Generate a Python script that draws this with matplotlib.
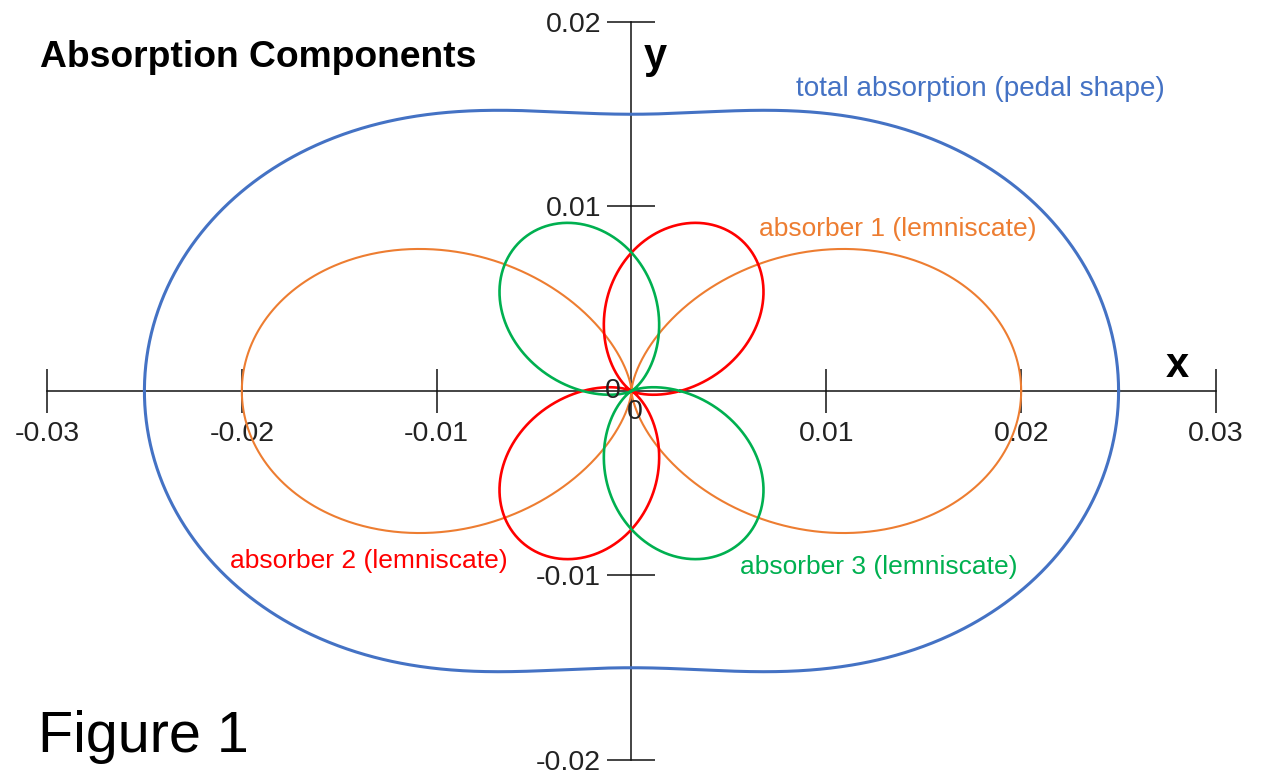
import numpy as np
import matplotlib
matplotlib.use("Agg")
import matplotlib.pyplot as plt

plt.rcParams['font.family'] = ['Liberation Sans', 'DejaVu Sans']

# Polar absorption components: r(theta) = amplitude * cos^2(theta - axis angle)
component_names = ["absorber 1 (lemniscate)", "absorber 2 (lemniscate)", "absorber 3 (lemniscate)"]
component_amplitudes = [0.02, 0.01, 0.01]
component_axis_deg = [0.0, 60.0, -60.0]
component_colors = ["#ED7D31", "#FF0000", "#00B050"]
total_name = "total absorption (pedal shape)"
total_color = "#4472C4"

x_ticks = [-0.03, -0.02, -0.01, 0.01, 0.02, 0.03]
x_tick_labels = ["-0.03", "-0.02", "-0.01", "0.01", "0.02", "0.03"]
y_ticks = [-0.02, -0.01, 0.01, 0.02]
y_tick_labels = ["-0.02", "-0.01", "0.01", "0.02"]

W, H = 1262, 775
fig = plt.figure(figsize=(W / 100, H / 100), dpi=100)
ax = fig.add_axes([0, 0, 1, 1])
ax.set_xlim(-0.032412, 0.032361)
ax.set_ylim(-0.020813, 0.021192)
ax.set_facecolor("white")

theta = np.linspace(0, 2 * np.pi, 1441)
radii = [a * np.cos(theta - np.deg2rad(phi)) ** 2
         for a, phi in zip(component_amplitudes, component_axis_deg)]
total = np.sum(radii, axis=0)

ax.plot(total * np.cos(theta), total * np.sin(theta), color=total_color, lw=2.2, zorder=3)
widths = [1.5, 1.9, 1.9]
for r, c, lw in zip(radii, component_colors, widths):
    ax.plot(r * np.cos(theta), r * np.sin(theta), color=c, lw=lw, zorder=4)

# axes crossing at the origin
for side in ("top", "right"):
    ax.spines[side].set_visible(False)
ax.spines["left"].set_position(("data", 0))
ax.spines["bottom"].set_position(("data", 0))
ax.spines["bottom"].set_bounds(-0.03, 0.03)
ax.spines["left"].set_bounds(-0.02, 0.02)
for s in ("left", "bottom"):
    ax.spines[s].set_linewidth(1.1)
    ax.spines[s].set_color("#111111")
    ax.spines[s].set_zorder(2)

tick_size = 20.5
ax.set_xticks(x_ticks, x_tick_labels)
ax.set_yticks(y_ticks, y_tick_labels)
ax.tick_params(axis="x", direction="inout", length=31, width=1.1, pad=6,
               labelsize=tick_size, colors="#111111", labelcolor="#222222")
ax.tick_params(axis="y", direction="inout", length=34, width=1.1, pad=5,
               labelsize=tick_size, colors="#111111", labelcolor="#222222")

# origin labels
ax.annotate("0", xy=(0, 0), xytext=(2.5, -15), textcoords="offset points",
            ha="center", va="center", fontsize=tick_size, color="#222222", zorder=5)
ax.annotate("0", xy=(0, 0), xytext=(-13.3, -0.1), textcoords="offset points",
            ha="center", va="center", fontsize=tick_size, color="#222222", zorder=5)

# axis letters
fig.text(1177.5 / W, 1 - 377 / H, "x", ha="center", va="baseline",
         fontsize=30, fontweight="bold", color="black")
fig.text(655.5 / W, 1 - 68 / H, "y", ha="center", va="baseline",
         fontsize=30, fontweight="bold", color="black")

# curve labels
fig.text(796 / W, 1 - 89 / H, total_name, ha="left", va="center",
         fontsize=20.1, color=total_color)
label_pos = [(759, 229), (230, 561), (740, 567)]
for name, c, (px, py) in zip(component_names, component_colors, label_pos):
    fig.text(px / W, 1 - py / H, name, ha="left", va="center", fontsize=19.0, color=c)

fig.text(40 / W, 1 - 67 / H, "Absorption Components", ha="left", va="baseline",
         fontsize=26.8, fontweight="bold", color="black")
fig.text(38 / W, 1 - 752 / H, "Figure 1", ha="left", va="baseline",
         fontsize=41.4, color="black")

fig.savefig("out.png", dpi=100, facecolor="white")
